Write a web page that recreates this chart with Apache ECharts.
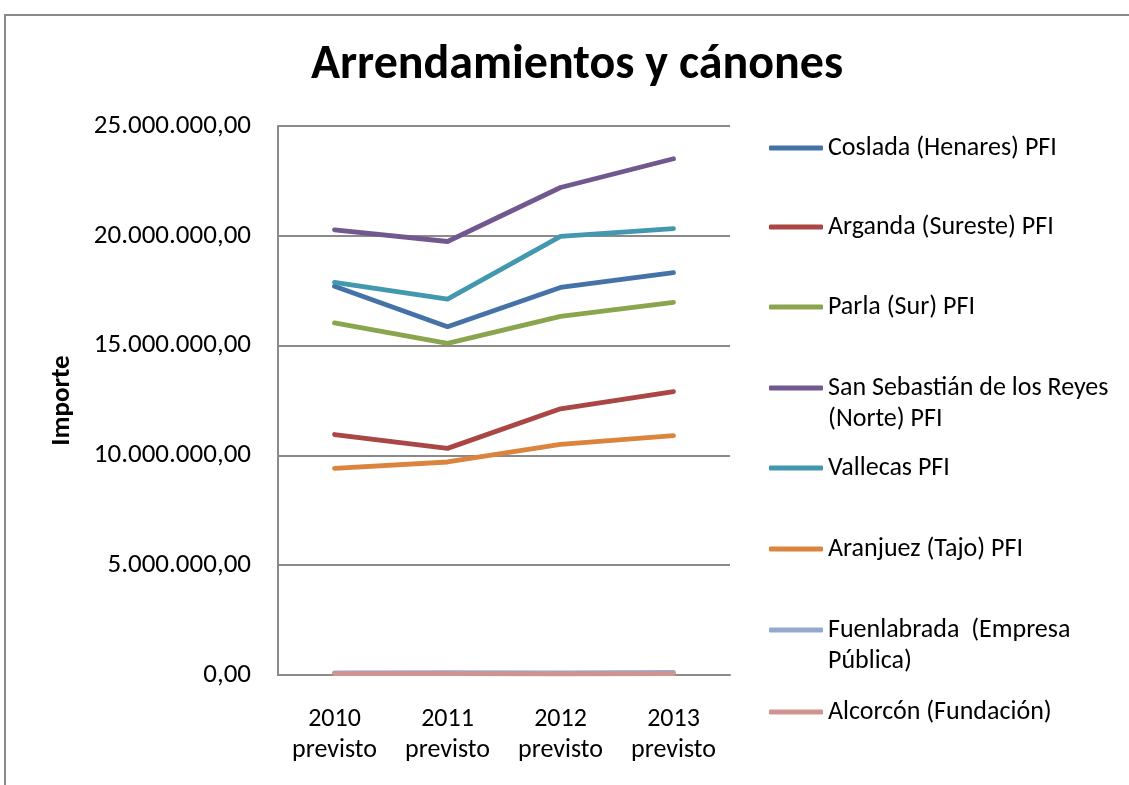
<!DOCTYPE html>
<html>
<head>
<meta charset="utf-8">
<script src="https://cdn.jsdelivr.net/npm/echarts@6/dist/echarts.min.js"></script>
<style>
html,body{margin:0;padding:0;background:#fff;}
#chart{width:1129px;height:785px;}
</style>
</head>
<body>
<div id="chart"></div>
<script>
const titleText = 'Arrendamientos y cánones';
const yAxisName = 'Importe';
const categories = ['2010\nprevisto', '2011\nprevisto', '2012\nprevisto', '2013\nprevisto'];
const seriesNames = [
  'Coslada (Henares) PFI',
  'Arganda (Sureste) PFI',
  'Parla (Sur) PFI',
  'San Sebastián de los Reyes (Norte) PFI',
  'Vallecas PFI',
  'Aranjuez (Tajo) PFI',
  'Fuenlabrada  (Empresa Pública)',
  'Alcorcón (Fundación)'
];
const legendLabels = [
  'Coslada (Henares) PFI',
  'Arganda (Sureste) PFI',
  'Parla (Sur) PFI',
  'San Sebastián de los Reyes\n(Norte) PFI',
  'Vallecas PFI',
  'Aranjuez (Tajo) PFI',
  'Fuenlabrada  (Empresa\nPública)',
  'Alcorcón (Fundación)'
];
const coslada      = [17700000, 15860000, 17650000, 18320000];
const arganda      = [10950000, 10320000, 12120000, 12900000];
const parla        = [16030000, 15100000, 16330000, 16970000];
const sanSebastian = [20270000, 19740000, 22200000, 23510000];
const vallecas     = [17880000, 17120000, 19970000, 20330000];
const aranjuez     = [9410000, 9700000, 10500000, 10900000];
const fuenlabrada  = [100000, 110000, 90000, 120000];
const alcorcon     = [60000, 60000, 50000, 60000];
const seriesValues = [coslada, arganda, parla, sanSebastian, vallecas, aranjuez, fuenlabrada, alcorcon];
const colors = ['#4572A7', '#AA4643', '#89A54E', '#71588F', '#4198AF', '#DB843D', '#93A9CF', '#D19392'];

const FONT = 'Carlito, Calibri, Lato, sans-serif';

function fmt(v) {
  const parts = v.toFixed(2).split('.');
  parts[0] = parts[0].replace(/\B(?=(\d{3})+(?!\d))/g, '.');
  return parts[0] + ',' + parts[1];
}

// legend symbol centers (layout)
const legendY = [148, 227, 307, 388, 468, 549, 630, 712];
const legends = seriesNames.map((name, i) => {
  const twoLines = legendLabels[i].indexOf('\n') >= 0;
  return {
    data: [name],
    left: 769,
    top: twoLines ? legendY[i] - 46.5 : legendY[i] - 15,
    padding: 0,
    icon: 'roundRect',
    itemWidth: 54,
    itemHeight: 5,
    selectedMode: false,
    // a blank first line keeps the symbol level with the first text line
    formatter: () => (twoLines ? ' \n' : '') + legendLabels[i],
    textStyle: {
      fontFamily: FONT,
      fontSize: 26,
      color: '#000',
      lineHeight: twoLines ? 31 : 30
    }
  };
});

const chart = echarts.init(document.getElementById('chart'), null, {renderer: 'canvas'});
chart.setOption({
  animation: false,
  backgroundColor: '#fff',
  color: colors,
  title: {
    text: titleText,
    left: 572,
    textAlign: 'center',
    top: 37,
    textStyle: {fontFamily: FONT, fontSize: 48, fontWeight: 'bold', color: '#000'}
  },
  graphic: [{
    type: 'rect',
    shape: {x: 5, y: 15, width: 1200, height: 900},
    style: {fill: 'none', stroke: '#8a8a8a', lineWidth: 2},
    silent: true
  }],
  legend: legends,
  grid: {left: 278, right: 399, top: 126, bottom: 110},
  xAxis: {
    type: 'category',
    data: categories,
    boundaryGap: true,
    axisLine: {lineStyle: {color: '#8a8a8a', width: 2}},
    axisTick: {show: false},
    axisLabel: {fontFamily: FONT, fontSize: 26, color: '#000', margin: 29, lineHeight: 31}
  },
  yAxis: {
    type: 'value',
    min: 0,
    max: 25000000,
    interval: 5000000,
    name: yAxisName,
    nameLocation: 'middle',
    nameRotate: 90,
    nameGap: 202,
    nameTextStyle: {fontFamily: FONT, fontSize: 27, fontWeight: 'bold', color: '#000'},
    axisLine: {show: true, lineStyle: {color: '#8a8a8a', width: 2}},
    axisTick: {show: false},
    splitLine: {lineStyle: {color: '#8a8a8a', width: 2}},
    axisLabel: {fontFamily: FONT, fontSize: 27, color: '#000', margin: 27, formatter: fmt}
  },
  series: seriesNames.map((name, i) => ({
    name: name,
    type: 'line',
    data: seriesValues[i],
    symbol: 'none',
    showSymbol: false,
    lineStyle: {width: 4.8, color: colors[i], cap: 'round', join: 'round'},
    itemStyle: {color: colors[i]}
  }))
});
</script>
</body>
</html>
